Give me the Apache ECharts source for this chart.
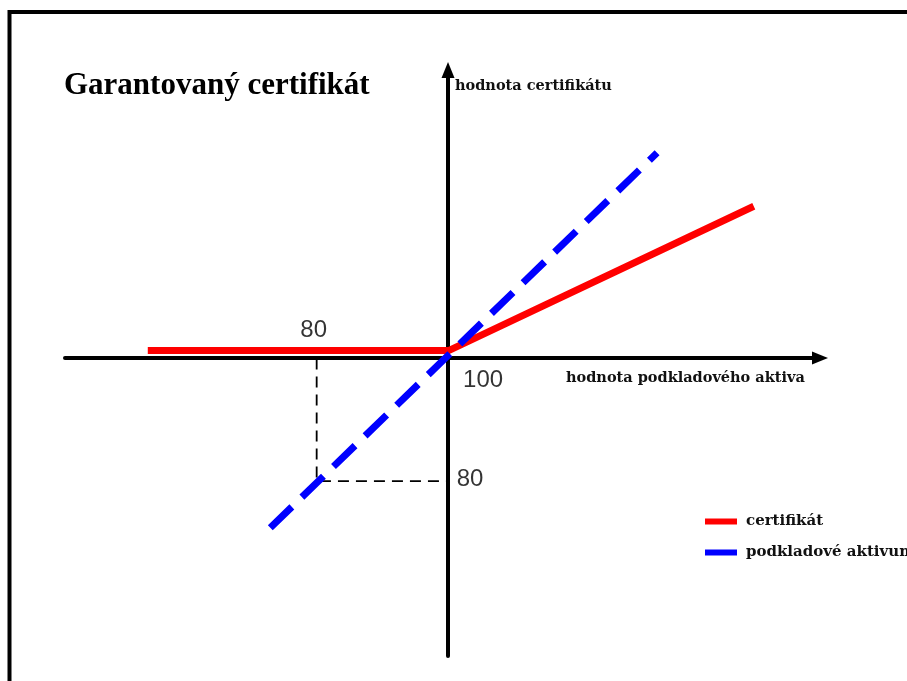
<!DOCTYPE html>
<html>
<head>
<meta charset="utf-8">
<script src="https://cdn.jsdelivr.net/npm/echarts@6/dist/echarts.min.js"></script>
<style>
  html, body { margin: 0; padding: 0; background: #fff; }
  #main { width: 907px; height: 681px; }
</style>
</head>
<body>
<div id="main"></div>
<script>
// data (x = underlying value, y = value)
var certX = [54.5, 100, 146];
var certY = [101.3, 101.3, 124.8];
var assetX = [73, 131.4];
var assetY = [72.4, 133.5];
var guideX = [80, 80, 100];
var guideY = [100, 80, 80];
var noteX = [80, 100, 100];
var noteY = [100, 100, 80];
var noteText = ['80', '100', '80'];
var noteOffset = [[-3, -28], [34, 22], [21, -2]];
var seriesNames = ['certifikát', 'podkladové aktivum'];

var pairs = function (xs, ys) {
    var res = [];
    for (var i = 0; i < xs.length; i++) {
        res.push([xs[i], ys[i]]);
    }
    return res;
};

var myChart = echarts.init(document.getElementById('main'));

var serifBold = {
    fontFamily: 'DejaVu Serif',
    fontWeight: 'bold',
    fontSize: 14.5,
    color: '#111'
};

var option = {
    animation: false,
    backgroundColor: '#fff',
    title: {
        text: 'Garantovaný certifikát',
        left: 59,
        top: 65,
        textStyle: {
            fontFamily: 'Liberation Serif',
            fontWeight: 'bold',
            fontSize: 31,
            color: '#000'
        }
    },
    legend: {
        data: seriesNames,
        orient: 'vertical',
        left: 705,
        top: 514,
        padding: 0,
        icon: 'rect',
        itemWidth: 32,
        itemHeight: 6,
        itemGap: 16,
        textStyle: Object.assign({}, serifBold, { fontSize: 15, padding: [0, 0, 0, 4] })
    },
    graphic: [{
        type: 'rect',
        shape: { x: 9.5, y: 12, width: 1000, height: 1000 },
        style: { fill: 'none', stroke: '#000', lineWidth: 4 },
        silent: true
    }],
    grid: { left: 65, right: 87, top: 70, bottom: 25 },
    xAxis: {
        type: 'value',
        min: 42,
        max: 156,
        position: 'bottom',
        offset: -(656 - 358),
        name: 'hodnota podkladového aktiva',
        nameLocation: 'end',
        nameGap: -254,
        nameTextStyle: Object.assign({}, serifBold, {
            align: 'left', verticalAlign: 'top', lineHeight: 40
        }),
        axisLine: {
            lineStyle: { color: '#000', width: 4 },
            symbol: ['none', 'triangle'],
            symbolSize: [13, 16]
        },
        axisTick: { show: false },
        axisLabel: { show: false },
        splitLine: { show: false }
    },
    yAxis: {
        type: 'value',
        min: 51.5,
        max: 147,
        position: 'left',
        offset: -(448 - 65),
        name: 'hodnota certifikátu',
        nameLocation: 'end',
        nameGap: -16,
        nameTextStyle: Object.assign({}, serifBold, {
            align: 'left', verticalAlign: 'middle', padding: [0, 0, 0, 7]
        }),
        axisLine: {
            lineStyle: { color: '#000', width: 4 },
            symbol: ['none', 'triangle'],
            symbolSize: [13, 16]
        },
        axisTick: { show: false },
        axisLabel: { show: false },
        splitLine: { show: false }
    },
    series: [{
        name: 'guide',
        type: 'line',
        data: pairs(guideX, guideY),
        symbol: 'none',
        silent: true,
        lineStyle: { color: '#000', width: 1.8, type: [11, 7] }
    }, {
        name: seriesNames[0],
        type: 'line',
        data: pairs(certX, certY),
        symbol: 'none',
        itemStyle: { color: '#ff0000' },
        lineStyle: { color: '#ff0000', width: 7 }
    }, {
        name: seriesNames[1],
        type: 'line',
        data: pairs(assetX, assetY),
        symbol: 'none',
        itemStyle: { color: '#0000ff' },
        lineStyle: { color: '#0000ff', width: 7, type: [30, 14] }
    }, {
        name: 'notes',
        type: 'scatter',
        symbolSize: 0,
        silent: true,
        data: noteX.map(function (x, i) {
            return {
                value: [x, noteY[i]],
                label: {
                    show: true,
                    position: 'inside',
                    offset: noteOffset[i],
                    formatter: noteText[i],
                    fontFamily: 'Liberation Sans',
                    fontSize: 24,
                    color: '#000'
                }
            };
        })
    }]
};

myChart.setOption(option);
</script>
</body>
</html>
